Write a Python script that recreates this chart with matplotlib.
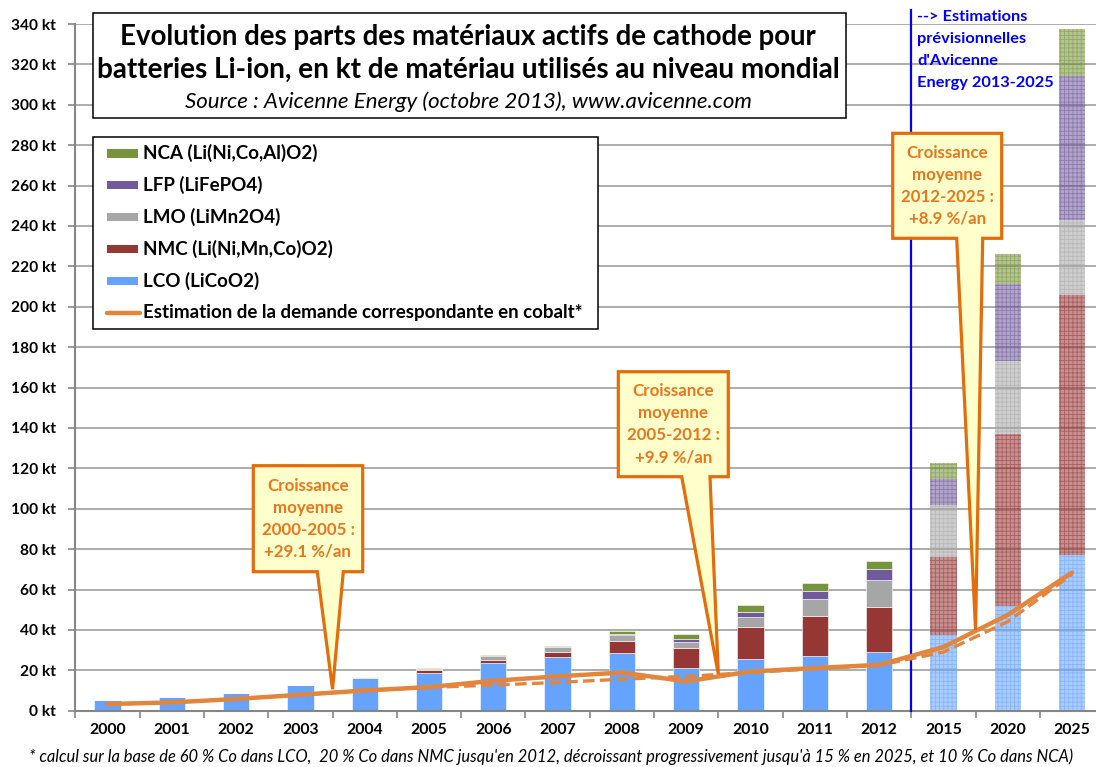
import matplotlib
matplotlib.use('Agg')
import matplotlib.pyplot as plt
import matplotlib.transforms as mtransforms
from matplotlib.patches import Polygon, Rectangle
from matplotlib.lines import Line2D
import numpy as np

# ---------------- data ----------------
years = ['2000', '2001', '2002', '2003', '2004', '2005', '2006', '2007', '2008',
         '2009', '2010', '2011', '2012', '2015', '2020', '2025']
lco = [5.4, 6.6, 9.0, 12.8, 16.0, 18.9, 23.8, 26.5, 28.6, 21.1, 25.8, 27.2, 29.0, 37.5, 52.0, 77.3]
nmc = [0, 0, 0, 0, 0.3, 1.1, 1.5, 2.8, 5.9, 10.1, 15.8, 19.8, 22.5, 38.7, 84.8, 128.6]
lmo = [0, 0, 0, 0, 0.5, 0.6, 1.7, 2.1, 3.0, 3.0, 4.9, 8.3, 13.2, 25.6, 36.5, 37.2]
lfp = [0, 0, 0, 0, 0, 0, 0.1, 0.2, 0.5, 1.2, 2.5, 4.0, 5.4, 12.8, 38.1, 71.2]
nca = [0, 0, 0, 0, 0, 0.6, 0.6, 0.6, 1.7, 2.7, 3.4, 4.0, 4.0, 8.0, 14.8, 23.1]
cobalt = [3.3, 4.1, 5.8, 7.9, 10.0, 11.7, 14.8, 17.0, 18.9, 14.5, 19.4, 21.1, 22.7, 31.5, 47.4, 68.4]
cobalt_alt = [3.3, 4.1, 5.8, 7.9, 10.0, 11.5, 12.7, 14.0, 15.6, 17.0, 18.9, 20.8, 22.5, 29.0, 44.1, 67.5]
n_hist = 13  # 2000-2012 observed, the rest are forecasts
series_labels = ['LCO (LiCoO2)', 'NMC (Li(Ni,Mn,Co)O2)', 'LMO (LiMn2O4)',
                 'LFP (LiFePO4)', 'NCA (Li(Ni,Co,Al)O2)']
line_label = 'Estimation de la demande correspondante en cobalt*'
yticks = list(range(0, 341, 20))
callouts = [("Croissance\nmoyenne\n2000-2005 :\n+29.1 %/an", 3.5, 10.6),
            ("Croissance\nmoyenne\n2005-2012 :\n+9.9 %/an", 9.5, 18.0),
            ("Croissance\nmoyenne\n2012-2025 :\n+8.9 %/an", 13.5, 40.0)]

# ---------------- style ----------------
colors = ['#66A3FF', '#953735', '#A6A6A6', '#705A9C', '#77933C']
orange = '#E2863D'
callout_edge = '#E46C0A'
callout_text = '#E8761E'
callout_fill = '#FFFFCC'
grid_c = '#A6A6A6'
axis_c = '#868686'
blue = '#0000FF'

W, H = 1096, 767
plt.rcParams['font.family'] = ['Lato', 'DejaVu Sans']
plt.rcParams['hatch.linewidth'] = 0.6
fig = plt.figure(figsize=(W / 100, H / 100), dpi=100)
renderer = fig.canvas.get_renderer()
px = mtransforms.Affine2D().scale(1, -1).translate(0, H)  # image pixel coords (top-left origin)


def fit_size(s, width, **kw):
    t = fig.text(0, 0, s, fontsize=20, **kw)
    w = t.get_window_extent(renderer).width
    t.remove()
    return 20 * width / w


# axes geometry
step = 64.3
x0c = 107.5
left_px = x0c - step / 2
x_right = (W - x0c) / step
ax_bottom_px, ax_top_px = 710.7, 24.0
ax = fig.add_axes([left_px / W, (H - ax_bottom_px) / H, (W - left_px) / W,
                   (ax_bottom_px - ax_top_px) / H])
ax.set_xlim(-0.5, x_right)
ax.set_ylim(0, 340)

x = np.arange(len(years))
stack = [lco, nmc, lmo, lfp, nca]
bottom = np.zeros(len(years))
bw = 0.41
for vals, c in zip(stack, colors):
    vals = np.array(vals, dtype=float)
    ax.bar(x[:n_hist], vals[:n_hist], bw, bottom=bottom[:n_hist], color=c,
           edgecolor='white', linewidth=0.4, zorder=2)
    ax.bar(x[n_hist:], vals[n_hist:], bw, bottom=bottom[n_hist:], color=c,
           edgecolor=c, linewidth=0, hatch='++++', alpha=0.55, zorder=2)
    bottom += vals

ax.plot(x, cobalt_alt, color=orange, lw=2.4, ls=(0, (3.5, 1.6)), zorder=4)
ax.plot(x, cobalt, color=orange, lw=3.2, solid_capstyle='round', zorder=5)

# forecast separator
ax.plot([12.5, 12.5], [0, 347], color=blue, lw=1.6, clip_on=False, zorder=3)

# axes styling
ax.set_axisbelow(True)
ax.yaxis.grid(True, color=grid_c, lw=1.3)
for s in ['top', 'right']:
    ax.spines[s].set_visible(False)
for s in ['left', 'bottom']:
    ax.spines[s].set_color(axis_c)
    ax.spines[s].set_linewidth(1.5)

xfs = fit_size('2000', 37, fontweight='bold')
yfs = fit_size('340 kt', 45, fontweight='bold')
ax.set_xticks(x)
ax.set_xticklabels(years, fontweight='bold', fontsize=xfs)
ax.set_xticks(np.arange(-0.5, len(years) - 0.5, 1), minor=True)
ax.tick_params(axis='x', which='major', length=0, pad=9)
ax.tick_params(axis='x', which='minor', length=5, width=1.2, color=axis_c, direction='out')
ax.set_yticks(yticks)
ax.set_yticklabels([f'{v} kt' for v in yticks], fontweight='bold', fontsize=yfs)
ax.tick_params(axis='y', length=5, width=1.2, color=axis_c, pad=9)

# ---------------- title box ----------------
fig.patches.append(Rectangle((92.7, 12.7), 753, 105.3, transform=px, facecolor='white',
                             edgecolor='black', lw=1.1, zorder=1))
t1 = 'Evolution des parts des matériaux actifs de cathode pour'
t2 = 'batteries Li-ion, en kt de matériau utilisés au niveau mondial'
t3 = 'Source : Avicenne Energy (octobre 2013), www.avicenne.com'
fig.text(467.5, 37, t1, transform=px, ha='center', va='center', fontweight='bold',
         fontsize=fit_size(t1, 697, fontweight='bold'), zorder=3)
fig.text(468.5, 70, t2, transform=px, ha='center', va='center', fontweight='bold',
         fontsize=fit_size(t2, 743, fontweight='bold'), zorder=3)
fig.text(468, 102, t3, transform=px, ha='center', va='center', style='italic',
         fontsize=fit_size(t3, 568, style='italic'), zorder=3)

# ---------------- legend ----------------
fig.patches.append(Rectangle((92.7, 137.3), 505.3, 192, transform=px, facecolor='white',
                             edgecolor='black', lw=1.1, zorder=1))
lfs = fit_size(line_label, 440, fontweight='bold')
rows_y = [153.3, 185.2, 217.1, 249.0, 280.9, 312.8]
for i, (lab, c) in enumerate(zip(series_labels[::-1], colors[::-1])):
    yy = rows_y[i]
    fig.patches.append(Rectangle((107, yy - 4.2), 31, 8.4, transform=px, facecolor=c,
                                 edgecolor='none', zorder=2))
    fig.text(143, yy, lab, transform=px, ha='left', va='center', fontweight='bold',
             fontsize=lfs, zorder=3)
fig.lines.append(Line2D([107, 140], [rows_y[5], rows_y[5]], transform=px, color=orange,
                        lw=3.2, solid_capstyle='round', zorder=2))
fig.text(143, rows_y[5], line_label, transform=px, ha='left', va='center',
         fontweight='bold', fontsize=lfs, zorder=3)

# ---------------- callouts ----------------
boxes = [(253.3, 362.7, 465.7, 571.7, 317.3, 343.3),
         (618.3, 728.3, 371.7, 476.7, 681.7, 710.0),
         (892.7, 1001.7, 133.3, 238.3, 956.7, 982.7)]
cfs = 12.2
cls = 1.47
for (txt, tx, ty), (L, R, T, B, b1, b2) in zip(callouts, boxes):
    tip = ax.transData.transform((tx, ty))
    tip_img = (tip[0], H - tip[1])
    verts = [(L, T), (R, T), (R, B), (b2, B), tip_img, (b1, B), (L, B)]
    fig.patches.append(Polygon(verts, closed=True, transform=px, facecolor=callout_fill,
                               edgecolor=callout_edge, lw=2.3, joinstyle='miter', zorder=1))
    fig.text((L + R) / 2, (T + B) / 2, txt, transform=px, ha='center', va='center',
             fontweight='bold', color=callout_text, fontsize=cfs, linespacing=cls,
             multialignment='center', zorder=3)

# ---------------- forecast note ----------------
note = "--> Estimations\nprévisionnelles\nd'Avicenne\nEnergy 2013-2025"
fig.text(917, 50, note, transform=px, ha='left', va='center', fontweight='bold', color=blue,
         fontsize=11.8, linespacing=1.72, zorder=3)

# ---------------- footnote ----------------
foot = ("* calcul sur la base de 60 % Co dans LCO,  20 % Co dans NMC jusqu'en 2012, "
        "décroissant progressivement jusqu'à 15 % en 2025, et 10 % Co dans NCA)")
ffam = ['Liberation Sans Narrow', 'Lato', 'DejaVu Sans']
fig.text(551.5, 757, foot, transform=px, ha='center', va='center', style='italic',
         family=ffam, fontsize=fit_size(foot, 1043, style='italic', family=ffam), zorder=3)

fig.savefig('out.png', dpi=100, facecolor='white')
